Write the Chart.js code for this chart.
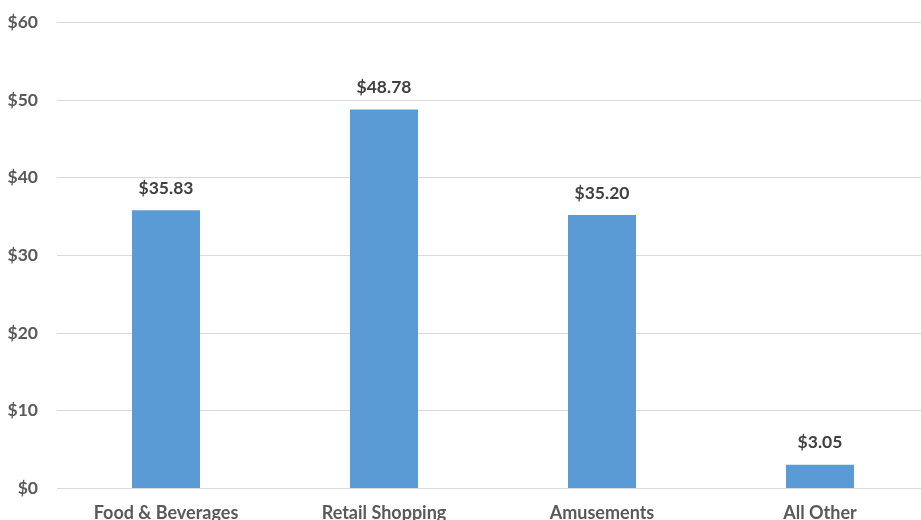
<!DOCTYPE html>
<html>
<head>
<meta charset="utf-8">
<script src="https://cdn.jsdelivr.net/npm/chart.js@4"></script>
<style>
  html, body { margin: 0; padding: 0; background: #fff; overflow: hidden; }
  #wrap { width: 929px; height: 537px; margin-top: -7px; position: relative; }
</style>
</head>
<body>
<div id="wrap"><canvas id="spendChart"></canvas></div>
<script>
const categories = ['Food & Beverages', 'Retail Shopping', 'Amusements', 'All Other'];
const spending = [35.83, 48.78, 35.20, 3.05];
const yTicks = [0, 10, 20, 30, 40, 50, 60];

const axisColor = '#595959';
const fontFamily = 'Lato, "Open Sans", sans-serif';

// dollar value above each bar
const valueLabels = {
    id: 'valueLabels',
    afterDatasetsDraw(chart) {
        const ctx = chart.ctx;
        const meta = chart.getDatasetMeta(0);
        ctx.save();
        ctx.font = 'bold 17.5px ' + fontFamily;
        ctx.fillStyle = '#404040';
        ctx.textAlign = 'center';
        ctx.textBaseline = 'middle';
        meta.data.forEach((bar, i) => {
            ctx.fillText('$' + spending[i].toFixed(2), bar.x, bar.y - 22);
        });
        ctx.restore();
    }
};

const ctx = document.getElementById('spendChart').getContext('2d');
new Chart(ctx, {
    type: 'bar',
    data: {
        labels: categories,
        datasets: [{
            data: spending,
            backgroundColor: '#5B9BD5',
            barPercentage: 0.312,
            categoryPercentage: 1
        }]
    },
    options: {
        responsive: true,
        maintainAspectRatio: false,
        animation: false,
        layout: { padding: { left: 0, right: 0, top: 5, bottom: 0 } },
        plugins: {
            legend: { display: false },
            tooltip: { enabled: false }
        },
        scales: {
            x: {
                grid: { display: false },
                border: { color: '#d9d9d9', width: 1 },
                ticks: {
                    color: axisColor,
                    font: { family: fontFamily, size: 18, weight: 'bold' },
                    padding: 6
                }
            },
            y: {
                min: 0,
                max: 60,
                afterBuildTicks(axis) {
                    axis.ticks = yTicks.map(v => ({ value: v }));
                },
                afterFit(axis) {
                    axis.width = 57;
                },
                grid: { color: '#d9d9d9', drawTicks: false },
                border: { display: false },
                ticks: {
                    color: axisColor,
                    font: { family: fontFamily, size: 17.5, weight: 'bold' },
                    padding: 19,
                    callback: v => '$' + v
                }
            }
        }
    },
    plugins: [valueLabels]
});
</script>
</body>
</html>
